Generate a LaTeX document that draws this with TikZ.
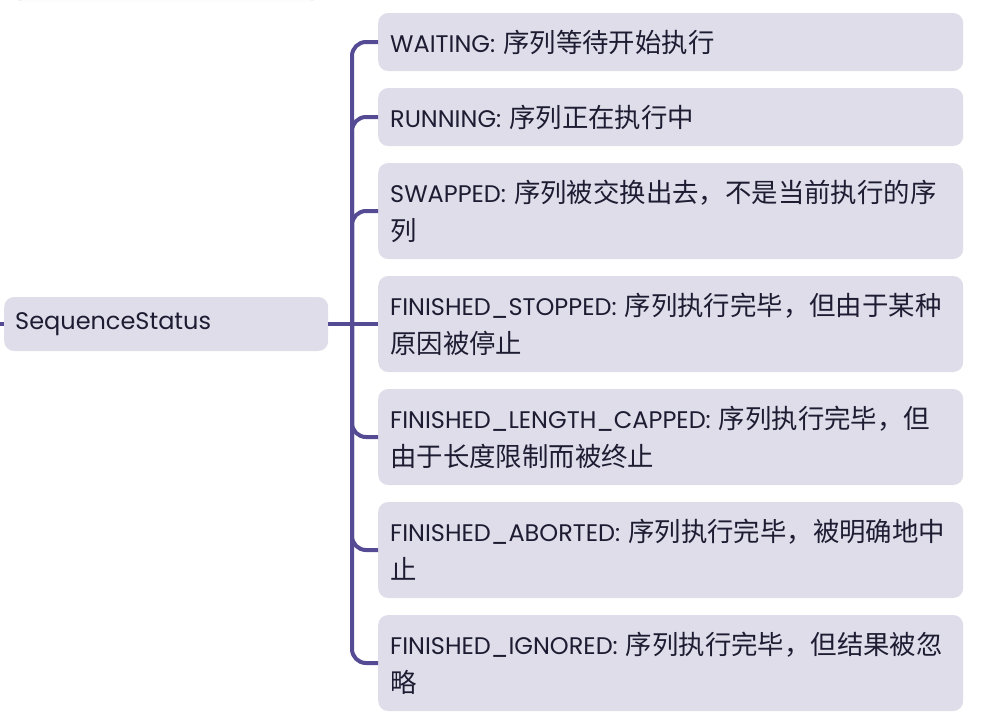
\documentclass[tikz,border=0pt]{standalone}
\usepackage{fontspec}
\setmainfont{Poppins}
\newfontfamily\cjk[Scale=1.1]{Noto Sans CJK SC}
\definecolor{boxfill}{HTML}{DEDDE9}
\definecolor{linecol}{HTML}{544B94}
\definecolor{txtcol}{HTML}{1E1C32}
\definecolor{faint}{HTML}{E9E9EF}
\begin{document}
\begin{tikzpicture}[x=1pt,y=-1pt,
  every node/.style={font=\fontsize{24}{38}\selectfont, text=txtcol},
  child/.style={fill=boxfill, rounded corners=10pt, anchor=west, text width=561pt,
    inner xsep=12pt, inner ysep=0pt, align=left},
  one/.style={minimum height=58pt},
  two/.style={minimum height=96pt},
  conn/.style={draw=linecol, line width=4pt, rounded corners=14pt}]
\useasboundingbox (0,0) rectangle (982,726);
\draw[faint, fill=white, rounded corners=8pt] (14,-30) rectangle (318,1);
\node[fill=boxfill, rounded corners=10pt, anchor=west, minimum width=324pt, minimum height=54pt,
  inner xsep=11pt, text width=302pt, align=left] (root) at (4,324) {SequenceStatus};
\node[child,one] (c1) at (378,42) {WAITING: \cjk{序列等待开始执行}};
\node[child,one] (c2) at (378,117) {RUNNING: \cjk{序列正在执行中}};
\node[child,two] (c3) at (378,211) {SWAPPED: \cjk{序列被交换出去，不是当前执行的序}\\\cjk{列}};
\node[child,two] (c4) at (378,324) {FINISHED\_STOPPED: \cjk{序列执行完毕，但由于某种}\\\cjk{原因被停止}};
\node[child,two] (c5) at (378,437) {FINISHED\_LENGTH\_CAPPED: \cjk{序列执行完毕，但}\\\cjk{由于长度限制而被终止}};
\node[child,two] (c6) at (378,550) {FINISHED\_ABORTED: \cjk{序列执行完毕，被明确地中}\\\cjk{止}};
\node[child,two] (c7) at (378,663) {FINISHED\_IGNORED: \cjk{序列执行完毕，但结果被忽}\\\cjk{略}};
\coordinate (in) at (-10,324);
\coordinate (hub) at (352,324);
\draw[conn] (in) -- (root.west);
\draw[conn] (root.east) -- (c4.west);
\foreach \c in {c1,c2,c3,c5,c6,c7}{\draw[conn] (hub) |- (\c.west);}
\end{tikzpicture}
\end{document}
